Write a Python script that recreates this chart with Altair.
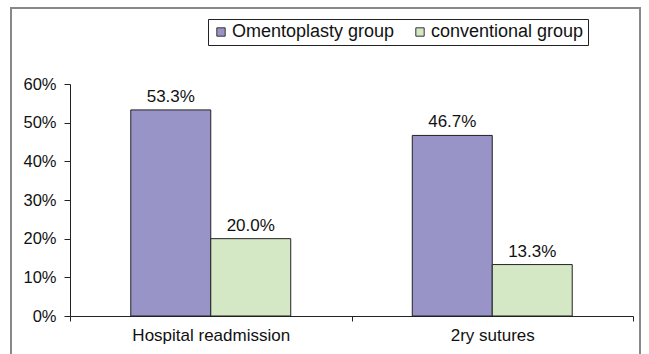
import altair as alt
import pandas as pd

categories = ["Hospital readmission", "2ry sutures"]
groups = ["Omentoplasty group", "conventional group"]
omentoplasty = [0.533, 0.467]
conventional = [0.200, 0.133]
labels_omento = ["53.3%", "46.7%"]
labels_conv = ["20.0%", "13.3%"]
colors = ["#9894c8", "#d5e8c5"]

rows = []
for i, c in enumerate(categories):
    rows.append({"cat": c, "group": groups[0], "value": omentoplasty[i], "label": labels_omento[i]})
    rows.append({"cat": c, "group": groups[1], "value": conventional[i], "label": labels_conv[i]})
df = pd.DataFrame(rows)

FONT = "Liberation Sans"
W, H = 563, 232
L, T = 70, 84

x = alt.X("cat:N", sort=categories, title=None,
          scale=alt.Scale(paddingInner=0, paddingOuter=0),
          axis=alt.Axis(orient="bottom", labelAngle=0, labelFont=FONT, labelFontSize=17,
                        labelColor="#111", labelPadding=6, domainColor="#222",
                        tickColor="#222", tickSize=5, tickBand="extent", grid=False))
xo = alt.XOffset("group:N", sort=groups, scale=alt.Scale(paddingInner=0, paddingOuter=0.76))
y = alt.Y("value:Q", title=None,
          scale=alt.Scale(domain=[0, 0.6], nice=False),
          axis=alt.Axis(orient="left", format=".0%", values=[0, 0.1, 0.2, 0.3, 0.4, 0.5, 0.6],
                        grid=False, labelFont=FONT, labelFontSize=16.5, labelColor="#111",
                        labelPadding=8, domainColor="#222", tickColor="#222", tickSize=6))

base = alt.Chart(df)

bars = base.mark_bar(stroke="#222", strokeWidth=1).encode(
    x=x, xOffset=xo, y=y,
    color=alt.Color("group:N", sort=groups,
                    scale=alt.Scale(domain=groups, range=colors),
                    legend=alt.Legend(title=None, orient="none", direction="horizontal",
                                      legendX=208 - L, legendY=19 - T,
                                      strokeColor="#222", padding=4,
                                      labelFont=FONT, labelFontSize=18, labelColor="#111",
                                      labelLimit=400,
                                      symbolType="square", symbolSize=70,
                                      symbolStrokeColor="#333", symbolStrokeWidth=1,
                                      columnPadding=16, labelOffset=2)),
)

text = base.mark_text(dy=-13, font=FONT, fontSize=17, color="#111").encode(
    x=x, xOffset=xo, y=y, text="label:N"
)

main = alt.layer(bars, text)

# decorative outer frame (pixel space, relative to plot origin)
frame = pd.DataFrame({"fx1": [11 - L], "fx2": [640 - L], "fy1": [8 - T], "fy2": [360 - T]})
border = alt.Chart(frame).mark_rect(fill="transparent", stroke="#888", strokeWidth=2, clip=False).encode(
    x=alt.X("fx1:Q", scale=None, axis=None), x2="fx2:Q",
    y=alt.Y("fy1:Q", scale=None, axis=None), y2="fy2:Q",
)

chart = alt.layer(main, border).resolve_scale(x="independent", y="independent").properties(
    width=W, height=H,
    background="white",
    autosize=alt.AutoSizeParams(type="none"),
    padding={"left": L, "top": T, "right": 649 - L - W, "bottom": 354 - T - H},
).configure_view(strokeWidth=0, stroke="transparent")

chart.save("out.html", embed_options={"renderer": "svg", "actions": False})
